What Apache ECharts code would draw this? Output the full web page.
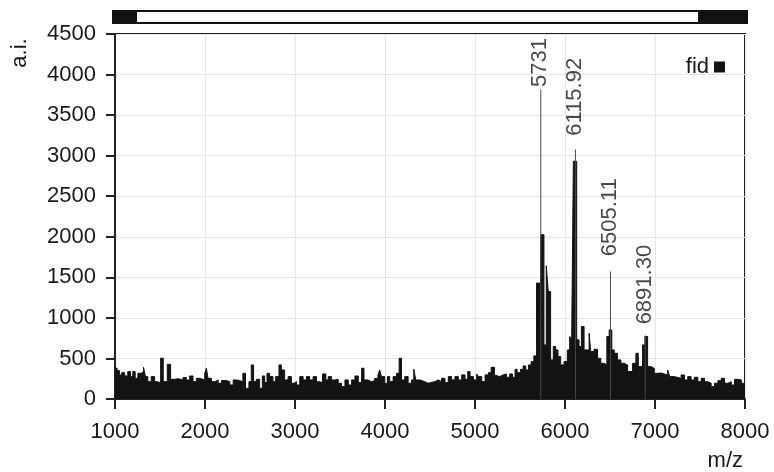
<!DOCTYPE html>
<html>
<head>
<meta charset="utf-8">
<script src="https://cdn.jsdelivr.net/npm/echarts@6/dist/echarts.min.js"></script>
<style>
html,body{margin:0;padding:0;background:#fff;}
#c{width:774px;height:472px;}
</style>
</head>
<body>
<div id="c"></div>
<script>
// m/z step start positions and intensities (a.i.) of the spectrum
var mz = [1000,1023,1049,1075,1105,1142,1172,1198,1224,1254,1291,1317,1339,1365,1402,1440,1470,1507,1536,1581,1618,1660,1700,1756,1793,1830,1867,1904,1941,1997,2015,2034,2071,2109,2146,2183,2238,2276,2313,2350,
2384,2421,2450,2488,2514,2540,2570,2607,2637,2663,2689,2718,2755,2785,2822,2848,2885,2923,2960,2990,3016,3053,3090,3127,3164,3201,3239,3270,3306,3343,3369,3406,3443,3480,3517,3555,3592,3629,3666,3703,3740,3767,
3811,3848,3885,3922,3941,3960,3997,4027,4052,4090,4127,4157,4183,4220,4257,4294,4320,4342,4387,4443,4480,4517,4554,4591,4629,4666,4703,4740,4777,4815,4852,4889,4919,4945,4982,5019,5038,5075,5112,5149,5179,5216,
5237,5274,5312,5349,5386,5416,5445,5468,5505,5535,5564,5594,5624,5654,5684,5722,5732,5766,5792,5814,5840,5870,5896,5922,5952,5989,6026,6052,6074,6093,6130,6156,6182,6212,6268,6286,6323,6361,6398,6435,6465,6491,6520,6547,6584,6621,6658,6695,6751,6788,6814,6862,6888,6918,6955,6992,7030,7067,7141,7163,7215,7290,7327,7364,7401,7438,7476,7513,7550,7587,7624,7661,7699,7736,7773,7810,7847,7884,7921,7959,8000];
var ai = [380,350,297,325,285,338,276,338,255,317,338,391,276,214,276,214,200,503,214,428,243,250,235,264,235,284,214,255,235,317,380,255,214,235,194,227,214,173,235,227,
214,317,132,214,420,214,243,132,284,202,317,276,214,276,420,358,235,276,194,214,173,276,235,276,235,276,214,202,309,235,276,235,243,194,152,235,173,235,284,202,379,235,
214,227,255,297,358,276,194,276,214,276,317,503,235,276,194,235,367,235,214,194,205,214,235,214,255,202,276,235,276,235,297,243,338,276,235,309,276,214,297,325,391,297,
276,296,309,268,309,268,366,325,366,408,358,420,461,531,1429,560,2025,667,1643,1326,482,646,605,523,420,461,605,770,729,2931,729,646,893,605,811,585,613,502,440,420,770,852,605,564,482,440,420,338,440,564,400,667,770,400,379,317,320,296,358,276,255,296,235,276,235,268,214,255,214,194,152,194,226,255,194,214,173,243,235,194,194];

// annotated peaks
var peakLabels = ['5731', '6115.92', '6505.11', '6891.30'];
var peakMz = [5731, 6115.92, 6505.11, 6891.30];
var peakTop = [3816, 3075, 1572, 782];      // top of the peak marker line
var peakLabelAt = [3840, 3240, 1754, 914];  // intensity where each label starts

// axis ticks
var xTicks = [1000, 2000, 3000, 4000, 5000, 6000, 7000, 8000];
var yTicks = [0, 500, 1000, 1500, 2000, 2500, 3000, 3500, 4000, 4500];

var FONT = "'Liberation Sans', Arial, sans-serif";
var TXT = '#1a1a1a';

var spec = mz.map(function (m, i) { return [m, ai[i]]; });
var markers = peakMz.map(function (m, i) { return [m, peakTop[i]]; });
var labels = peakMz.map(function (m, i) { return { value: [m, peakLabelAt[i]], name: peakLabels[i] }; });

var chart = echarts.init(document.getElementById('c'), null, { renderer: 'canvas' });
chart.setOption({
  animation: false,
  backgroundColor: '#fff',
  grid: { left: 115, right: 29, top: 34, bottom: 73, show: true, borderColor: '#222', borderWidth: 2, backgroundColor: 'transparent' },
  legend: {
    data: ['fid'], right: 44, top: 51, align: 'right', icon: 'rect', itemWidth: 11, itemHeight: 11,
    textStyle: { fontSize: 22, color: TXT, fontFamily: FONT }, selectedMode: false
  },
  xAxis: {
    type: 'value', min: xTicks[0], max: xTicks[xTicks.length - 1], interval: xTicks[1] - xTicks[0],
    axisLine: { show: true, lineStyle: { color: '#222', width: 2 } },
    axisTick: { show: true, length: 10, lineStyle: { color: '#222', width: 2 } },
    axisLabel: { fontSize: 22, color: TXT, fontFamily: FONT, margin: 22, formatter: function (v) { return String(v); } },
    splitLine: { show: true, lineStyle: { color: '#e6e6e6', width: 1 } }
  },
  yAxis: {
    type: 'value', min: yTicks[0], max: yTicks[yTicks.length - 1], interval: yTicks[1] - yTicks[0],
    axisLine: { show: true, lineStyle: { color: '#222', width: 2 } },
    axisTick: { show: true, length: 9, lineStyle: { color: '#222', width: 2 } },
    axisLabel: { fontSize: 22, color: TXT, fontFamily: FONT, margin: 19, formatter: function (v) { return String(v); } },
    splitLine: { show: true, lineStyle: { color: '#e6e6e6', width: 1 } }
  },
  series: [
    {
      name: 'fid', type: 'line', step: 'end', data: spec, showSymbol: false, symbol: 'none',
      lineStyle: { color: '#131313', width: 1 }, itemStyle: { color: '#131313' },
      areaStyle: { color: '#131313', opacity: 1 }, z: 2, silent: true
    },
    {
      name: 'markers', type: 'bar', data: markers, barWidth: 1, barGap: '-100%',
      itemStyle: { color: '#4a4a4a' }, z: 3, silent: true
    },
    {
      name: 'labels', type: 'scatter', data: labels, symbolSize: 1,
      itemStyle: { color: 'transparent' }, z: 4, silent: true,
      label: {
        show: true, position: [0, 0], rotate: 90, align: 'left', verticalAlign: 'middle',
        formatter: function (p) { return p.name; },
        fontSize: 22, color: TXT, fontFamily: FONT
      }
    }
  ],
  graphic: [
    { type: 'rect', shape: { x: 113, y: 11, width: 634, height: 12 }, style: { fill: '#fff', stroke: '#111', lineWidth: 2 } },
    { type: 'rect', shape: { x: 113, y: 11, width: 24, height: 12 }, style: { fill: '#111' } },
    { type: 'rect', shape: { x: 698, y: 11, width: 49, height: 12 }, style: { fill: '#111' } },
    { type: 'text', x: 20, y: 53, rotation: Math.PI / 2,
      style: { text: 'a.i.', font: '22px ' + FONT, fill: TXT, textAlign: 'center', align: 'center', textVerticalAlign: 'middle', verticalAlign: 'middle' } },
    { type: 'text', x: 743, y: 461,
      style: { text: 'm/z', font: '22px ' + FONT, fill: TXT, textAlign: 'right', align: 'right', textVerticalAlign: 'middle', verticalAlign: 'middle' } }
  ]
});
</script>
</body>
</html>
